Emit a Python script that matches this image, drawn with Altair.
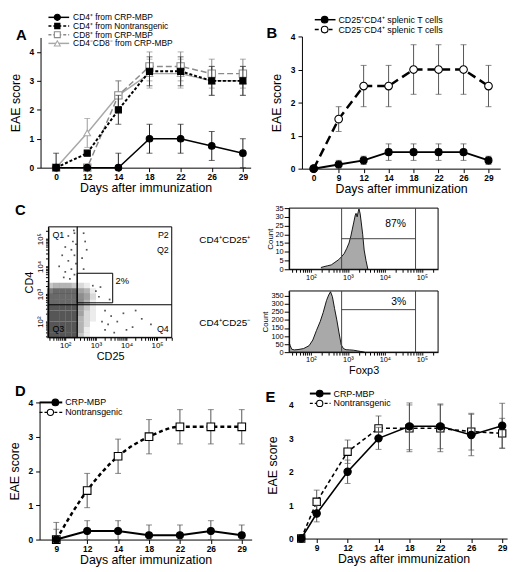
import altair as alt
import numpy as np
import pandas as pd

W, H = 509, 556
M = 8
FONT = "Liberation Sans"
ONE = pd.DataFrame({"k": [0]})


def cx(p):
    return p - M


def cy(p):
    return p - M


# ------------------------------------------------------------------ data
days_A = [0, 12, 14, 18, 22, 26, 29]
A_cd4_crp = [0, 0, 0, 1, 1, 0.75, 0.5]
A_cd4_crp_err = [0.5, 0, 0.5, 0.5, 0.5, 0.5, 0.5]
A_cd4_ntg = [0, 0.5, 2, 3.33, 3.33, 3.0, 3.0]
A_cd4_ntg_err = [0, 0, 0.5, 0.5, 0.5, 0.5, 0.5]
A_cd8_crp = [0, 0, 2.5, 3.5, 3.5, 3.25, 3.25]
A_cd8_crp_err = [0, 0, 0.5, 0.5, 0.5, 0.5, 0.5]
A_dn_crp = [0, 1.2, 2.5, 3.25, 3.25, 3.0, 3.0]
A_dn_crp_err = [0, 0.5, 0.5, 0.5, 0.5, 0.5, 0.5]
A_names = ["CD4⁺ from CRP-MBP", "CD4⁺ from Nontransgenic",
           "CD8⁺ from CRP-MBP", "CD4⁻CD8⁻ from CRP-MBP"]

days_B = [0, 9, 12, 14, 18, 22, 26, 29]
B_pos = [0, 0.125, 0.25, 0.5, 0.5, 0.5, 0.5, 0.25]
B_pos_err = [0, 0.125, 0.125, 0.25, 0.25, 0.25, 0.25, 0.125]
B_neg = [0, 1.5, 2.5, 2.5, 3, 3, 3, 2.5]
B_neg_err = [0, 0.375, 0.625, 0.625, 0.75, 0.75, 0.75, 0.625]
B_names = ["CD25⁺CD4⁺ splenic T cells", "CD25⁻CD4⁺ splenic T cells"]

days_D = [9, 12, 14, 18, 22, 26, 29]
D_crp = [0, 0.25, 0.25, 0.125, 0.125, 0.25, 0.125]
D_crp_err = [0.5, 0.3, 0.3, 0.3, 0.3, 0.3, 0.3]
D_ntg = [0, 1.43, 2.43, 3.0, 3.29, 3.29, 3.29]
D_ntg_err = [0.3, 0.5, 0.5, 0.5, 0.5, 0.5, 0.5]

days_E = [0, 9, 12, 14, 18, 22, 26, 29]
E_crp = [0, 0.75, 2.0, 3.0, 3.36, 3.36, 3.1, 3.38]
E_crp_err = [0, 0.25, 0.35, 0.33, 0.7, 0.67, 0.62, 0.67]
E_ntg = [0, 1.1, 2.6, 3.3, 3.3, 3.3, 3.2, 3.15]
E_ntg_err = [0, 0.35, 0.35, 0.37, 0.7, 0.7, 0.55, 0.45]
DE_names = ["CRP-MBP", "Nontransgenic"]

C_grid_rows = [
    "3444321000",
    "7888854100",
    "8888865200",
    "8888864100",
    "9999953100",
    "9999952100",
    "9999942100",
    "9999942000",
    "9999941000",
    "9999931000",
]
C_sparse_cd25 = [2.10, 2.30, 2.25, 2.00, 2.20, 1.90, 2.30, 2.10, 2.35, 1.80, 2.20, 2.00,
                 2.30, 2.15, 1.95, 2.35, 2.28, 2.60, 2.65, 2.70, 2.55, 2.60, 3.00, 3.10,
                 2.90, 3.30, 3.50, 3.70, 3.40, 3.90, 4.20, 4.50, 3.60, 4.00, 3.20, 3.30,
                 4.80, 4.30, 3.45, 3.15]
C_sparse_cd4 = [5.10, 5.20, 4.90, 4.70, 4.60, 4.40, 4.40, 4.20, 4.10, 4.00, 3.90, 3.80,
                3.70, 3.55, 3.60, 4.80, 5.30, 5.20, 4.90, 4.60, 4.30, 3.90, 3.10, 2.90,
                3.30, 2.40, 2.20, 2.00, 1.90, 2.30, 1.80, 2.10, 1.60, 1.70, 2.00, 1.70,
                1.90, 2.40, 2.80, 3.25]

H1_foxp3 = [2.27, 2.35, 2.45, 2.55, 2.65, 2.75, 2.82, 2.90, 2.97, 3.03, 3.08, 3.12,
            3.16, 3.20, 3.22, 3.25, 3.28, 3.30, 3.33, 3.36, 3.40, 3.44, 3.49, 3.54]
H1_count = [1, 1.5, 2, 2.5, 4, 5.5, 7, 9, 12, 15, 19, 23, 27, 31, 32, 30, 33, 34.5,
            32, 27, 20, 11, 5, 0]
H2_foxp3 = [1.41, 1.44, 1.48, 1.55, 1.65, 1.80, 1.95, 2.05, 2.15, 2.25, 2.33, 2.42,
            2.48, 2.53, 2.58, 2.64, 2.70, 2.76, 2.82, 2.88, 2.95, 3.05, 3.15, 3.25,
            3.35, 3.45]
H2_count = [60, 40, 18, 14, 16, 22, 40, 75, 135, 190, 245, 320, 355, 375, 345, 270,
            200, 120, 45, 22, 15, 14, 12, 8, 4, 0]
C_row_names = ["CD4⁺CD25⁺", "CD4⁺CD25⁻"]
pct_texts = ["87%", "3%", "2%"]
quad_names = ["Q1", "P2", "Q2", "Q3", "Q4"]


# ------------------------------------------------------------------ helpers
def kw_dash(dash):
    return {"strokeDash": dash} if dash else {}


def xaxis(offset, values, labels, title, orient="bottom"):
    expr = "[" + ",".join(f"'{l}'" for l in labels) + "][round(datum.value)]"
    return alt.Axis(orient=orient, offset=offset, values=values, labelExpr=expr,
                    title=title, titleFont=FONT, titleFontSize=12.5, titleFontWeight="normal",
                    titleColor="black", titlePadding=1,
                    labelFont=FONT, labelFontSize=8.5, labelFontWeight="bold",
                    labelColor="black", labelPadding=1, labelOverlap=False,
                    tickSize=4, tickColor="black", domainColor="black", grid=False)


def yaxis(offset, values, title, line=True, pad=7, orient="left"):
    return alt.Axis(orient=orient, offset=offset, values=values, format="d",
                    title=title, titleFont=FONT, titleFontSize=12.5, titleFontWeight="normal",
                    titleColor="black", titlePadding=pad,
                    labelFont=FONT, labelFontSize=8.5, labelFontWeight="bold",
                    labelColor="black", labelPadding=3 if line else 7,
                    tickSize=4 if line else 0, ticks=line, domain=line,
                    tickColor="black", domainColor="black", grid=False)


def series(slots, vals, errs, xs, ys, color, dash, width, shape, filled, size,
           ecolor, interp="linear", xax=None, yax=None):
    df = pd.DataFrame({"slot": slots, "v": vals, "e": errs})
    df["lo"] = (df.v - df.e).clip(lower=0)
    df["hi"] = df.v + df.e
    eb = df[df.e > 0]
    X = alt.X("slot:Q", scale=xs, axis=xax)
    Y = alt.Y("v:Q", scale=ys, axis=yax)
    Xn = alt.X("slot:Q", scale=xs, axis=None)
    return [
        alt.Chart(df).mark_line(color=color, strokeWidth=width, interpolate=interp,
                                **kw_dash(dash)).encode(X, Y),
        alt.Chart(eb).mark_rule(color=ecolor, strokeWidth=1).encode(
            Xn, alt.Y("lo:Q", scale=ys, axis=None), alt.Y2("hi:Q")),
        alt.Chart(eb).mark_tick(color=ecolor, orient="horizontal", size=6, thickness=1).encode(
            Xn, alt.Y("lo:Q", scale=ys, axis=None)),
        alt.Chart(eb).mark_tick(color=ecolor, orient="horizontal", size=6, thickness=1).encode(
            Xn, alt.Y("hi:Q", scale=ys, axis=None)),
        alt.Chart(df).mark_point(shape=shape, filled=True, size=size,
                                 fill=color if filled else "white", stroke=color,
                                 strokeWidth=1.1, opacity=1).encode(
            Xn, alt.Y("v:Q", scale=ys, axis=None)),
    ]


def legend_entry(x0, x1, xm, xt, y, text, color, dash, width, shape, filled, size, fs=9.5):
    return [
        alt.Chart(ONE).mark_rule(color=color, strokeWidth=width, **kw_dash(dash)).encode(
            x=alt.value(cx(x0)), x2=alt.value(cx(x1)), y=alt.value(cy(y))),
        alt.Chart(ONE).mark_point(shape=shape, filled=True, size=size,
                                  fill=color if filled else "white", stroke=color,
                                  strokeWidth=1.1, opacity=1).encode(
            x=alt.value(cx(xm)), y=alt.value(cy(y))),
        alt.Chart(ONE).mark_text(text=text, align="left", baseline="middle", font=FONT,
                                 fontSize=fs, color="black").encode(
            x=alt.value(cx(xt)), y=alt.value(cy(y))),
    ]


def label(text, x, y, size=10, weight="normal", align="center", angle=0, baseline="middle"):
    kw = {"angle": angle} if angle else {}
    return alt.Chart(ONE).mark_text(text=text, align=align, baseline=baseline, font=FONT,
                                    fontSize=size, fontWeight=weight, color="black",
                                    **kw).encode(x=alt.value(cx(x)), y=alt.value(cy(y)))


def slots_of(n):
    return list(range(n))


layers = []

# ------------------------------------------------------------------ panel A
xsA = alt.Scale(domain=[-0.5, 6.25], range=[cx(34), cx(247)], nice=False, zero=False)
ysA = alt.Scale(domain=[0, 4.5], range=[cy(165), cy(33)], nice=False, zero=False)
sA = slots_of(len(days_A))
axA_x = xaxis(cy(165) - H, sA, days_A, "Days after immunization")
axA_y = yaxis(-cx(34), [0, 1, 2, 3, 4], "EAE score")
layers += series(sA, A_dn_crp, A_dn_crp_err, xsA, ysA, "#a8a8a8", None, 1.5, "triangle-up", False, 45, "#999999", xax=axA_x, yax=axA_y)
layers += series(sA, A_cd8_crp, A_cd8_crp_err, xsA, ysA, "#8a8a8a", [6, 3], 1.5, "square", False, 55, "#888888")
layers += series(sA, A_cd4_ntg, A_cd4_ntg_err, xsA, ysA, "black", [3, 2], 2, "square", True, 38, "#333333")
layers += series(sA, A_cd4_crp, A_cd4_crp_err, xsA, ysA, "black", None, 1.5, "circle", True, 45, "#222222")
legA_y = [12.6, 21.4, 30.2, 39.0]
layers += legend_entry(42, 63, 51, 67, legA_y[0], A_names[0], "black", None, 1.5, "circle", True, 38, 8.5)
layers += legend_entry(42, 63, 51, 67, legA_y[1], A_names[1], "black", [3, 2], 1.5, "square", True, 28, 8.5)
layers += legend_entry(42, 63, 51, 67, legA_y[2], A_names[2], "#8a8a8a", [3, 2], 1.5, "square", False, 36, 8.5)
layers += legend_entry(42, 63, 51, 67, legA_y[3], A_names[3], "#a8a8a8", None, 1.5, "triangle-up", False, 36, 8.5)
layers.append(label("A", 9, 31, size=15, weight="bold", align="left"))

# ------------------------------------------------------------------ panel B
xsB = alt.Scale(domain=[-0.47, 7.47], range=[cx(299), cx(500)], nice=False, zero=False)
ysB = alt.Scale(domain=[0, 4], range=[cy(166), cy(32)], nice=False, zero=False)
sB = slots_of(len(days_B))
axB_x = xaxis(cy(166) - H, sB, days_B, "Days after immunization")
axB_y = yaxis(-cx(299), [0, 1, 2, 3, 4], "EAE score")
layers += series(sB, B_neg, B_neg_err, xsB, ysB, "black", [9, 5], 2.5, "circle", False, 60, "#555555", xax=axB_x, yax=axB_y)
layers += series(sB, B_pos, B_pos_err, xsB, ysB, "black", None, 2, "circle", True, 50, "#555555")
layers += legend_entry(312, 333, 322, 336, 15, B_names[0], "black", None, 1.5, "circle", True, 45, 9)
layers += legend_entry(312, 333, 322, 336, 25, B_names[1], "black", [4, 3], 1.5, "circle", False, 45, 9)
layers.append(label("B", 263, 29, size=15, weight="bold", align="left"))


# ------------------------------------------------------------------ panel C scatter
def log_ticks(lo, hi):
    vals = []
    for n in range(1, 6):
        for k in range(1, 10):
            v = round(float(np.log10(k)) + n, 4)
            if lo <= v <= hi:
                vals.append(v)
    return vals


sup_expr = ("datum.value == 2 ? '10²' : datum.value == 3 ? '10³' : "
            "datum.value == 4 ? '10⁴' : datum.value == 5 ? '10⁵' : ''")

scx_dom = [1.45, 5.48]
scy_dom = [1.43, 5.43]
xsC = alt.Scale(domain=scx_dom, range=[cx(42), cx(167)], nice=False, zero=False)
ysC = alt.Scale(domain=scy_dom, range=[cy(337), cy(225)], nice=False, zero=False)
axC_x = alt.Axis(orient="bottom", offset=cy(337) - H, values=log_ticks(*scx_dom), labelExpr=sup_expr,
                 title="CD25", titleFont=FONT, titleFontSize=11, titleFontWeight="normal",
                 titleColor="black", titlePadding=1, labelFont=FONT, labelFontSize=8,
                 labelColor="black", labelPadding=1, labelOverlap=False, tickSize=3,
                 tickColor="black", domainColor="black", grid=False)
axC_y = alt.Axis(orient="left", offset=-cx(42), values=log_ticks(*scy_dom), labelExpr=sup_expr,
                 title="CD4", titleFont=FONT, titleFontSize=11, titleFontWeight="normal",
                 titleColor="black", titlePadding=2, labelFont=FONT, labelFontSize=8,
                 labelAngle=270, labelColor="black", labelPadding=1, labelOverlap=False,
                 tickSize=3, tickColor="black", domainColor="black", grid=False)

cells = []
for r, row in enumerate(C_grid_rows):
    y0 = 3.2 - 0.2 * r
    for c, ch in enumerate(row):
        d = int(ch)
        if d > 0:
            x0 = 1.4 + 0.2 * c
            cells.append({"x0": x0, "x1": x0 + 0.205, "y0": y0, "y1": y0 + 0.205, "op": d / 10.5})
cells = pd.DataFrame(cells)
sparse = pd.DataFrame({"x": C_sparse_cd25, "y": C_sparse_cd4})
frameC = pd.DataFrame({"x0": [scx_dom[0]], "x1": [scx_dom[1]], "y0": [scy_dom[0]], "y1": [scy_dom[1]]})
gx, gy = 2.39, 2.61
gatesC_v = pd.DataFrame({"x": [gx], "y0": [scy_dom[0]], "y1": [scy_dom[1]]})
gatesC_h = pd.DataFrame({"y": [gy], "x0": [scx_dom[0]], "x1": [scx_dom[1]]})
p2box = pd.DataFrame({"x0": [gx], "x1": [3.55], "y0": [2.68], "y1": [3.75]})

layers += [
    alt.Chart(cells).mark_rect(color="#3a3a3a", clip=True).encode(
        x=alt.X("x0:Q", scale=xsC, axis=axC_x), x2="x1:Q",
        y=alt.Y("y0:Q", scale=ysC, axis=axC_y), y2="y1:Q",
        opacity=alt.Opacity("op:Q", scale=None)),
    alt.Chart(sparse).mark_square(color="#555555", size=3, opacity=1).encode(
        x=alt.X("x:Q", scale=xsC, axis=None), y=alt.Y("y:Q", scale=ysC, axis=None)),
    alt.Chart(frameC).mark_rect(fillOpacity=0, stroke="black", strokeWidth=1).encode(
        x=alt.X("x0:Q", scale=xsC, axis=None), x2="x1:Q",
        y=alt.Y("y0:Q", scale=ysC, axis=None), y2="y1:Q"),
    alt.Chart(gatesC_v).mark_rule(color="black", strokeWidth=1.2).encode(
        x=alt.X("x:Q", scale=xsC, axis=None),
        y=alt.Y("y0:Q", scale=ysC, axis=None), y2="y1:Q"),
    alt.Chart(gatesC_h).mark_rule(color="black", strokeWidth=1.2).encode(
        y=alt.Y("y:Q", scale=ysC, axis=None),
        x=alt.X("x0:Q", scale=xsC, axis=None), x2="x1:Q"),
    alt.Chart(p2box).mark_rect(fillOpacity=0, stroke="black", strokeWidth=1).encode(
        x=alt.X("x0:Q", scale=xsC, axis=None), x2="x1:Q",
        y=alt.Y("y0:Q", scale=ysC, axis=None), y2="y1:Q"),
]
layers.append(label("C", 8, 208, size=15, weight="bold", align="left"))
layers.append(label(quad_names[0], 46, 233, size=9, align="left"))
layers.append(label(quad_names[1], 164, 233, size=9, align="right"))
layers.append(label(quad_names[2], 164, 249, size=9, align="right"))
layers.append(label(quad_names[3], 46, 329, size=9, align="left"))
layers.append(label(quad_names[4], 164, 329, size=9, align="right"))
layers.append(label(pct_texts[2], 110, 280, size=9.5, align="left"))
layers.append(label(C_row_names[0], 195, 238, size=10, align="left"))
layers.append(label(C_row_names[1], 195, 323, size=10, align="left"))

# ------------------------------------------------------------------ panel C histograms
h_dom = [1.41, 5.44]
g1, g2 = 2.83, 4.83


def hist(xv, cv, ydom, yvals, top, bottom, gate_y, pct, pct_xy, show_title):
    xs = alt.Scale(domain=h_dom, range=[cx(286), cx(437)], nice=False, zero=False)
    ys = alt.Scale(domain=ydom, range=[cy(bottom), cy(top)], nice=False, zero=False)
    ax_x = alt.Axis(orient="bottom", offset=cy(bottom) - H, values=log_ticks(*h_dom), labelExpr=sup_expr,
                    title="Foxp3" if show_title else "", titleFont=FONT, titleFontSize=11,
                    titleFontWeight="normal", titleColor="black", titlePadding=1,
                    labelFont=FONT, labelFontSize=7.5, labelColor="black", labelPadding=1,
                    labelOverlap=False, tickSize=3, tickColor="black",
                    domainColor="black", grid=False)
    ax_y = alt.Axis(orient="left", offset=-cx(286), values=yvals, title="Count", titleFont=FONT,
                    titleFontSize=8, titleFontWeight="normal", titleColor="black", titlePadding=1,
                    labelFont=FONT, labelFontSize=7.5, labelColor="black", labelPadding=1,
                    labelOverlap=False, tickSize=5, tickColor="black", domainColor="black", grid=False)
    df = pd.DataFrame({"x": xv, "c": cv})
    frame = pd.DataFrame({"x0": [h_dom[0]], "x1": [h_dom[1]], "y0": [ydom[0]], "y1": [ydom[1]]})
    gv = pd.DataFrame({"x": [g1, g2], "y0": [ydom[0]] * 2, "y1": [ydom[1]] * 2})
    gh = pd.DataFrame({"y": [gate_y], "x0": [g1], "x1": [g2]})
    return [
        alt.Chart(df).mark_area(color="#858585", clip=True,
                                line={"color": "black", "strokeWidth": 0.9}).encode(
            x=alt.X("x:Q", scale=xs, axis=ax_x), y=alt.Y("c:Q", scale=ys, axis=ax_y)),
        alt.Chart(frame).mark_rect(fillOpacity=0, stroke="black", strokeWidth=1).encode(
            x=alt.X("x0:Q", scale=xs, axis=None), x2="x1:Q",
            y=alt.Y("y0:Q", scale=ys, axis=None), y2="y1:Q"),
        alt.Chart(gv).mark_rule(color="#444444", strokeWidth=1).encode(
            x=alt.X("x:Q", scale=xs, axis=None),
            y=alt.Y("y0:Q", scale=ys, axis=None), y2="y1:Q"),
        alt.Chart(gh).mark_rule(color="#444444", strokeWidth=1).encode(
            y=alt.Y("y:Q", scale=ys, axis=None),
            x=alt.X("x0:Q", scale=xs, axis=None), x2="x1:Q"),
        label(pct, pct_xy[0], pct_xy[1], size=10.5),
    ]


layers += hist(H1_foxp3, H1_count, [0, 35], [0, 5, 10, 15, 20, 25, 30, 35], 206, 268, 17.5,
               pct_texts[0], (394, 222), False)
layers += hist(H2_foxp3, H2_count, [0, 380], [0, 50, 100, 150, 200, 250, 300, 350], 290, 352, 264,
               pct_texts[1], (397, 301), True)

# ------------------------------------------------------------------ panel D
xsD = alt.Scale(domain=[-0.54, 6.32], range=[cx(33), cx(248)], nice=False, zero=False)
ysD = alt.Scale(domain=[0, 4], range=[cy(542), cy(403)], nice=False, zero=False)
sD = slots_of(len(days_D))
axD_x = xaxis(cy(542) - H, sD, days_D, "Days after immunization")
axD_y = yaxis(-cx(33), [0, 1, 2, 3, 4], "EAE score")
layers += series(sD, D_ntg, D_ntg_err, xsD, ysD, "black", [4, 3], 2.5, "square", False, 60, "#555555",
                 interp="monotone", xax=axD_x, yax=axD_y)
layers += series(sD, D_crp, D_crp_err, xsD, ysD, "black", None, 2.2, "circle", True, 50, "#555555")
layers += legend_entry(33, 56, 49, 59, 403, DE_names[0], "black", None, 2, "circle", True, 45, 9)
layers += legend_entry(33, 56, 44, 59, 413, DE_names[1], "black", [3, 2], 1.2, "circle", False, 40, 9)
layers.append(label("D", 8, 391, size=15, weight="bold", align="left"))

# ------------------------------------------------------------------ panel E
sE = [-0.5] + slots_of(len(days_E) - 1)
xsE = alt.Scale(domain=[-0.54, 6.16], range=[cx(297), cx(507)], nice=False, zero=False)
ysE = alt.Scale(domain=[0, 4.4], range=[cy(541), cy(392)], nice=False, zero=False)
axE_x = xaxis(cy(541) - H, sE[1:], days_E[1:], "Days after immunization")
axE_y = yaxis(-cx(297), [0, 1, 2, 3, 4], "EAE score", line=False, pad=9)
layers += series(sE, E_ntg, E_ntg_err, xsE, ysE, "black", [4, 3], 1.6, "square", False, 55, "#555555",
                 xax=axE_x, yax=axE_y)
layers += series(sE, E_crp, E_crp_err, xsE, ysE, "black", None, 1.6, "circle", True, 55, "#555555")
layers += legend_entry(307, 328, 317, 331, 394, DE_names[0], "black", None, 2, "circle", True, 45, 9)
layers += legend_entry(307, 328, 317, 331, 404, DE_names[1], "black", [3, 2], 1.2, "circle", False, 40, 9)
layers.append(label("E", 262, 398, size=15, weight="bold", align="left"))

chart = (alt.layer(*layers)
         .resolve_scale(x="independent", y="independent")
         .properties(width=W, height=H, padding=0)
         .configure_view(stroke=None))

chart.save("out.html", embed_options={"renderer": "svg", "actions": False})
